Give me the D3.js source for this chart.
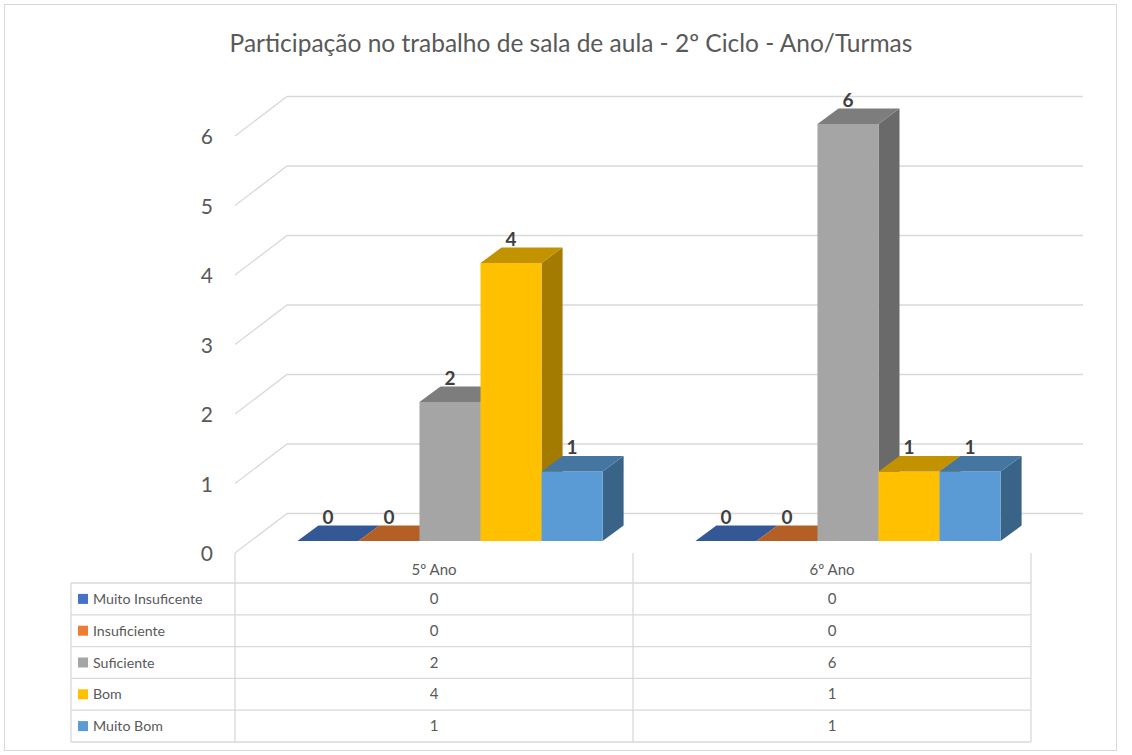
<!DOCTYPE html>
<html>
<head>
<meta charset="utf-8">
<script src="https://cdn.jsdelivr.net/npm/d3@7"></script>
<style>
  body { margin: 0; background: #fff; }
  text { font-family: Lato, "Open Sans", sans-serif; fill: #595959; }
</style>
</head>
<body>
<div id="chart"></div>
<script>
var categories = ["5º Ano", "6º Ano"];
var seriesNames = ["Muito Insuficente", "Insuficiente", "Suficiente", "Bom", "Muito Bom"];
var seriesColors = ["#4472C4", "#ED7D31", "#A5A5A5", "#FFC000", "#5B9BD5"];
var muitoInsuficente = [0, 0];
var insuficiente = [0, 0];
var suficiente = [2, 6];
var bom = [4, 1];
var muitoBom = [1, 1];
var seriesValues = [muitoInsuficente, insuficiente, suficiente, bom, muitoBom];
var yTicks = [0, 1, 2, 3, 4, 5, 6];
var title = "Participação no trabalho de sala de aula - 2º Ciclo - Ano/Turmas";

var width = 1132, height = 755;
// depth offsets of the fake 3d
var bdx = 21, bdy = -15.5;     // bar depth
var wdx = 36, wdy = -27.5;     // back wall, from bar plane
var fdx = -16, fdy = 12;       // front edge, from bar plane

var svg = d3.select("#chart").append("svg")
  .attr("width", width)
  .attr("height", height);

svg.append("rect")
  .attr("x", 4.5).attr("y", 4.5)
  .attr("width", 1112).attr("height", 746)
  .attr("fill", "none")
  .attr("stroke", "#d9d9d9");

svg.append("text")
  .text(title)
  .attr("x", 571).attr("y", 52)
  .attr("text-anchor", "middle")
  .style("font-size", "24.5px");

var x0 = d3.scaleBand().domain(categories).range([251, 1047]);
var x1 = d3.scaleBand().domain(seriesNames).range([0, x0.bandwidth()]).paddingOuter(0.76);
var y = d3.scaleLinear().domain([0, 6]).range([541, 124]);

// grid: diagonal on the side wall + line on the back wall
var grid = svg.append("g").attr("class", "grid")
  .attr("stroke", "#d9d9d9").attr("stroke-width", 1.3).attr("fill", "none");
yTicks.forEach(function(t){
  var yy = y(t);
  grid.append("path")
    .attr("d", "M" + (x0.range()[0] + fdx) + "," + (yy + fdy) +
               "L" + (x0.range()[0] + wdx) + "," + (yy + wdy) +
               "L" + (x0.range()[1] + wdx) + "," + (yy + wdy));
});

svg.append("g").selectAll("text")
  .data(yTicks)
  .enter().append("text")
  .attr("x", 213)
  .attr("y", function(d){ return y(d) + fdy + 8; })
  .attr("text-anchor", "end")
  .style("font-size", "21px")
  .text(function(d){ return d; });

function shade(c, k){
  var r = d3.rgb(c);
  return d3.rgb(r.r * k, r.g * k, r.b * k).formatHex();
}

// bars, left to right so each front covers the previous side
var bars = svg.append("g").attr("class", "bars");
categories.forEach(function(cat, ci){
  seriesNames.forEach(function(s, si){
    var v = seriesValues[si][ci];
    var x = x0(cat) + x1(s), w = x1.bandwidth();
    var yt = y(v), yb = y(0);
    var col = seriesColors[si];
    var g = bars.append("g");
    g.append("path")
      .attr("d", "M" + (x + w) + "," + yt + "L" + (x + w + bdx) + "," + (yt + bdy) +
                 "L" + (x + w + bdx) + "," + (yb + bdy) + "L" + (x + w) + "," + yb + "Z")
      .attr("fill", shade(col, 0.64));
    g.append("rect")
      .attr("x", x).attr("y", yt)
      .attr("width", w).attr("height", yb - yt)
      .attr("fill", col);
    g.append("path")
      .attr("d", "M" + x + "," + yt + "L" + (x + bdx) + "," + (yt + bdy) +
                 "L" + (x + w + bdx) + "," + (yt + bdy) + "L" + (x + w) + "," + yt + "Z")
      .attr("fill", shade(col, 0.76));
  });
});

// data labels
categories.forEach(function(cat, ci){
  seriesNames.forEach(function(s, si){
    var v = seriesValues[si][ci];
    svg.append("text")
      .attr("x", x0(cat) + x1(s) + x1.bandwidth() / 2)
      .attr("y", y(v) + bdy - 2)
      .attr("text-anchor", "middle")
      .style("font-size", "19px")
      .style("font-weight", "bold")
      .style("fill", "#404040")
      .text(v);
  });
});

// data table under the plot
var tLeft = 71, rowH = 31.8, tTop = 583;
var colEdges = [x0.range()[0] + fdx].concat(categories.map(function(c){ return x0(c) + x0.bandwidth() + fdx; }));
var tRight = colEdges[colEdges.length - 1];
var table = svg.append("g").attr("class", "table");
var tl = table.append("g").attr("stroke", "#d9d9d9").attr("stroke-width", 1.3);

d3.range(seriesNames.length + 1).forEach(function(i){
  tl.append("line")
    .attr("x1", tLeft).attr("x2", tRight)
    .attr("y1", tTop + i * rowH).attr("y2", tTop + i * rowH);
});
tl.append("line")
  .attr("x1", tLeft).attr("x2", tLeft)
  .attr("y1", tTop).attr("y2", tTop + seriesNames.length * rowH);
colEdges.forEach(function(cx){
  tl.append("line")
    .attr("x1", cx).attr("x2", cx)
    .attr("y1", y(0) + fdy).attr("y2", tTop + seriesNames.length * rowH);
});

categories.forEach(function(cat){
  table.append("text")
    .attr("x", x0(cat) + x0.bandwidth() / 2 + fdx)
    .attr("y", tTop - 8)
    .attr("text-anchor", "middle")
    .style("font-size", "15px")
    .text(cat);
});

seriesNames.forEach(function(s, si){
  var ry = tTop + si * rowH + rowH / 2;
  table.append("rect")
    .attr("x", 78).attr("y", ry - 5)
    .attr("width", 10).attr("height", 10)
    .attr("fill", seriesColors[si]);
  table.append("text")
    .attr("x", 93).attr("y", ry + 5)
    .style("font-size", "14.2px")
    .text(s);
  categories.forEach(function(cat, ci){
    table.append("text")
      .attr("x", x0(cat) + x0.bandwidth() / 2 + fdx)
      .attr("y", ry + 5)
      .attr("text-anchor", "middle")
      .style("font-size", "15px")
      .text(seriesValues[si][ci]);
  });
});
</script>
</body>
</html>
